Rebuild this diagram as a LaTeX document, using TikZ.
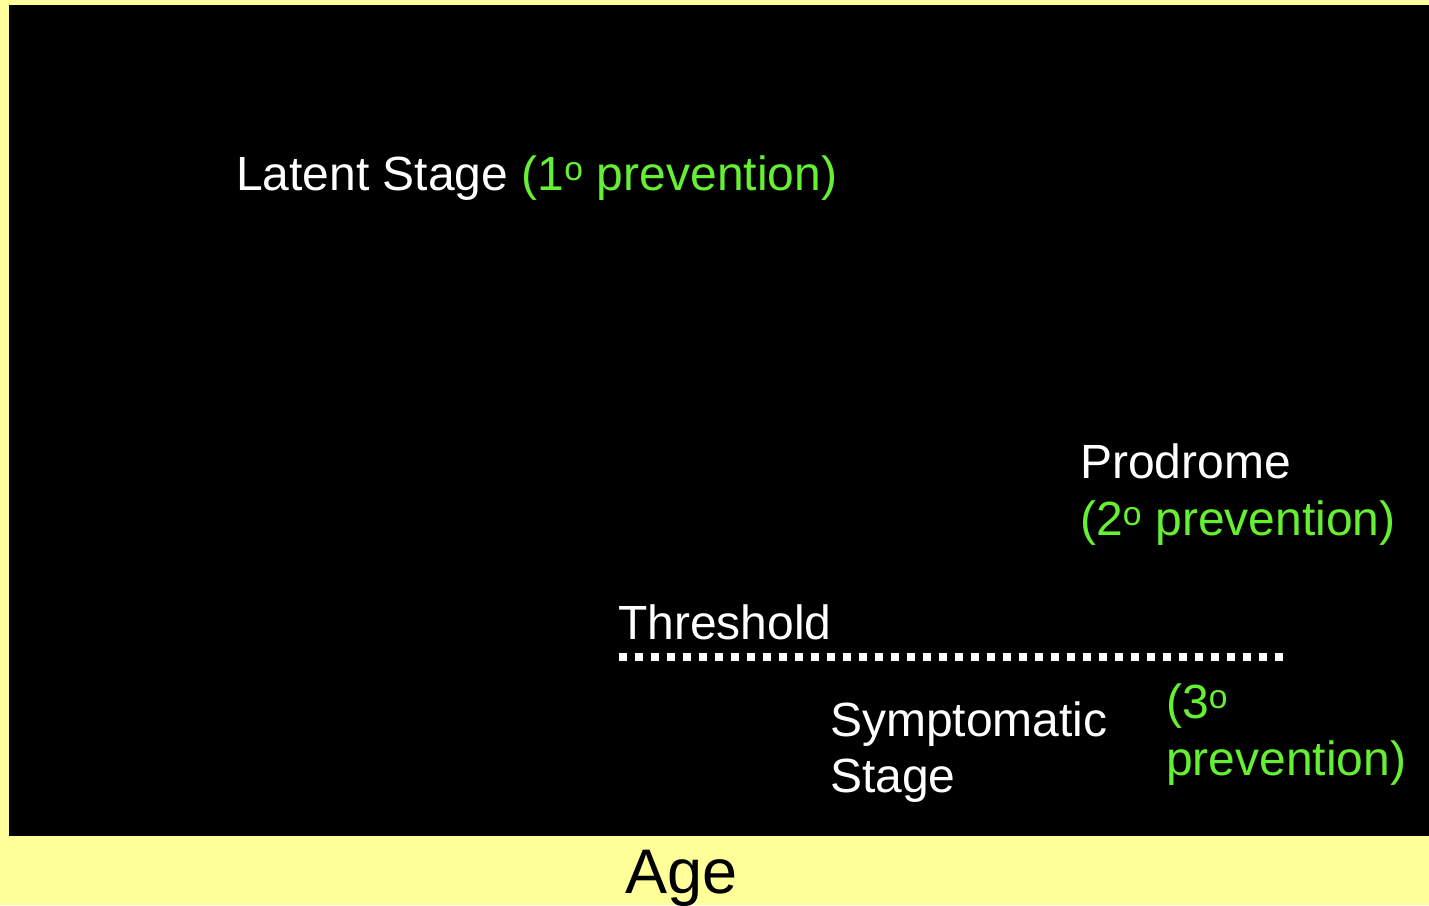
\documentclass[tikz,border=0pt]{standalone}
\usepackage{fontspec}
\setmainfont{Liberation Sans}
\definecolor{paleyellow}{HTML}{FFFF99}
\definecolor{prevgreen}{HTML}{66F033}
\begin{document}
\begin{tikzpicture}[x=1pt,y=-1pt,
  lbl/.style={anchor=base west,inner sep=0pt,text=white,font=\fontsize{48}{56}\selectfont},
  prev/.style={lbl,text=prevgreen}]
\useasboundingbox (0,0) rectangle (1429,905);
\fill[paleyellow] (0,0) rectangle (1429,905);
\fill[black] (9,5) rectangle (1429,836);

\node[lbl] (latent) at (236,190) {Latent Stage \textcolor{prevgreen}{(1\textsuperscript{o} prevention)}};
\node[lbl] (prodrome) at (1080,478) {Prodrome};
\node[prev] (second) at (1080,535) {(2\textsuperscript{o} prevention)};
\node[lbl] (threshold) at (618,639) {Threshold};
\coordinate (thrstart) at (619,657);
\coordinate (thrend) at (1283,657);
\draw[white,line width=8pt,dash pattern=on 8pt off 8pt] (thrstart) -- (thrend);
\node[lbl] (sympt) at (830,736) {Symptomatic};
\node[lbl] (stage) at (830,792) {Stage};
\node[prev] (third) at (1166,718) {(3\textsuperscript{o}};
\node[prev] (thirdb) at (1166,775) {prevention)};
\node[lbl,text=black,font=\fontsize{63}{70}\selectfont] (age) at (625,893) {Age};
\end{tikzpicture}
\end{document}
